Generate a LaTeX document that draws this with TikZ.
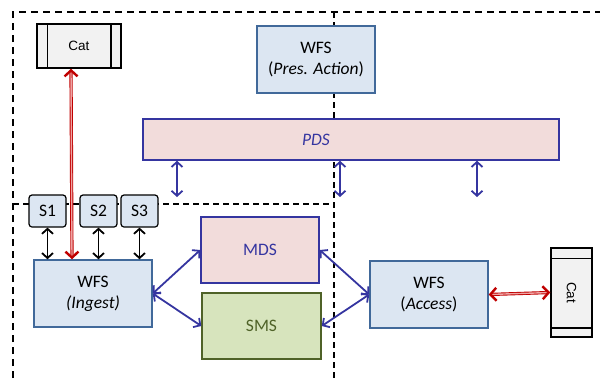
\documentclass[tikz,border=0pt]{standalone}
\usepackage{fontspec}
\setmainfont{Carlito}
\newfontfamily\catfont{Liberation Sans}
\usetikzlibrary{arrows.meta}
\definecolor{wfsfill}{HTML}{DCE6F2}
\definecolor{wfsline}{HTML}{41699A}
\definecolor{dsfill}{HTML}{F2DCDB}
\definecolor{dsline}{HTML}{3535A0}
\definecolor{smsfill}{HTML}{D7E4BD}
\definecolor{smsline}{HTML}{4F6228}
\definecolor{catfill}{HTML}{F2F2F2}
\definecolor{catred}{HTML}{C00000}
\definecolor{catpink}{HTML}{EFA3A3}
\begin{document}
\begin{tikzpicture}[x=1pt,y=-1pt]
\tikzstyle{txt}=[font=\fontsize{17.5}{21}\selectfont]
\tikzstyle{wfs}=[txt,draw=wfsline,fill=wfsfill,line width=1.5pt,minimum width=118pt,minimum height=67pt,inner sep=0pt,align=center]
\tikzstyle{ds}=[txt,draw=dsline,fill=dsfill,text=dsline,line width=1.5pt,minimum width=118pt,minimum height=66pt,inner sep=0pt]
\tikzstyle{sbox}=[txt,draw,fill=wfsfill,rounded corners=3pt,line width=1.2pt,minimum width=37pt,minimum height=32pt,inner sep=0pt]
\tikzstyle{cat}=[draw,fill=catfill,line width=1.5pt,inner sep=0pt,font=\catfont\fontsize{13.5}{16}\selectfont]
\tikzstyle{border}=[line width=1.8pt,dash pattern=on 7pt off 5pt]
\tikzstyle{split}=[line width=1.5pt,dash pattern=on 6pt off 4pt]
\tikzstyle{barrow}=[draw=dsline,line width=1.8pt,{Straight Barb[length=5pt,width=11pt]}-{Straight Barb[length=5pt,width=11pt]}]
\tikzstyle{karrow}=[line width=1.8pt,{Straight Barb[length=5pt,width=11pt]}-{Straight Barb[length=5pt,width=11pt]}]
\tikzstyle{rarrow}=[draw=catred,double=catpink,double distance=1.4pt,line width=0.9pt,{Straight Barb[length=6pt,width=13pt,line width=2.4pt]}-{Straight Barb[length=6pt,width=13pt,line width=2.4pt]}]
\useasboundingbox (0,0) rectangle (600,378);

% domain borders
\draw[border] (13,378) -- (13,12) -- (600,12);
\draw[split] (334,12) -- (334,378);
\draw[split] (13,204) -- (334,204);

% catalogue
\node[cat,minimum width=84pt,minimum height=44pt] at (79,46) (catA) {Cat};
\draw[line width=1.5pt] ([xshift=11pt]catA.north west) -- ([xshift=11pt]catA.south west);
\draw[line width=1.5pt] ([xshift=-11pt]catA.north east) -- ([xshift=-11pt]catA.south east);

\node[wfs] at (316,59.5) (pres) {WFS\\(\textit{Pres. Action})};
\node[ds,minimum width=416pt,minimum height=41pt,label={[txt,text=dsline,xshift=-35pt]center:\textit{PDS}}] at (351,139.5) (pds) {};

\node[sbox] at (47.5,211) (s1) {S1};
\node[sbox] at (98.5,211) (s2) {S2};
\node[sbox] at (139.5,211) (s3) {S3};

\node[wfs] at (93,293.5) (ingest) {WFS\\\textit{(Ingest)}};
\node[ds] at (260,250) (mds) {MDS};
\node[ds,draw=smsline,fill=smsfill,text=smsline,minimum width=119pt] at (261.5,326) (sms) {SMS};
\node[wfs] at (429,294.5) (access) {WFS\\(\textit{Access})};

\node[cat,minimum width=41pt,minimum height=89pt,label={[rotate=-90,font=\catfont\fontsize{13.5}{16}\selectfont]center:Cat}] at (571.5,292.5) (catB) {};
\draw[line width=1.5pt] ([yshift=-11pt]catB.north west) -- ([yshift=-11pt]catB.north east);
\draw[line width=1.5pt] ([yshift=10pt]catB.south west) -- ([yshift=10pt]catB.south east);

% links to PDS
\coordinate (d1) at (177,197);
\coordinate (d2) at (340,197);
\coordinate (d3) at (477,197);
\draw[barrow] (pds.south -| d1) -- (d1);
\draw[barrow] (pds.south -| d2) -- (d2);
\draw[barrow] (pds.south -| d3) -- (d3);

\draw[karrow] (s1) -- (ingest.north -| s1);
\draw[karrow] (s2) -- (ingest.north -| s2);
\draw[karrow] (s3) -- (ingest.north -| s3);

\draw[rarrow] ([xshift=-8pt]catA.south) -- ([xshift=-21pt]ingest.north);
\draw[rarrow] (access.east) -- (catB.west);

\draw[barrow] (ingest.east) -- (mds.west);
\draw[barrow] (ingest.east) -- (sms.west);
\draw[barrow] (mds.east) -- (access.west);
\draw[barrow] (sms.east) -- (access.west);
\end{tikzpicture}
\end{document}
